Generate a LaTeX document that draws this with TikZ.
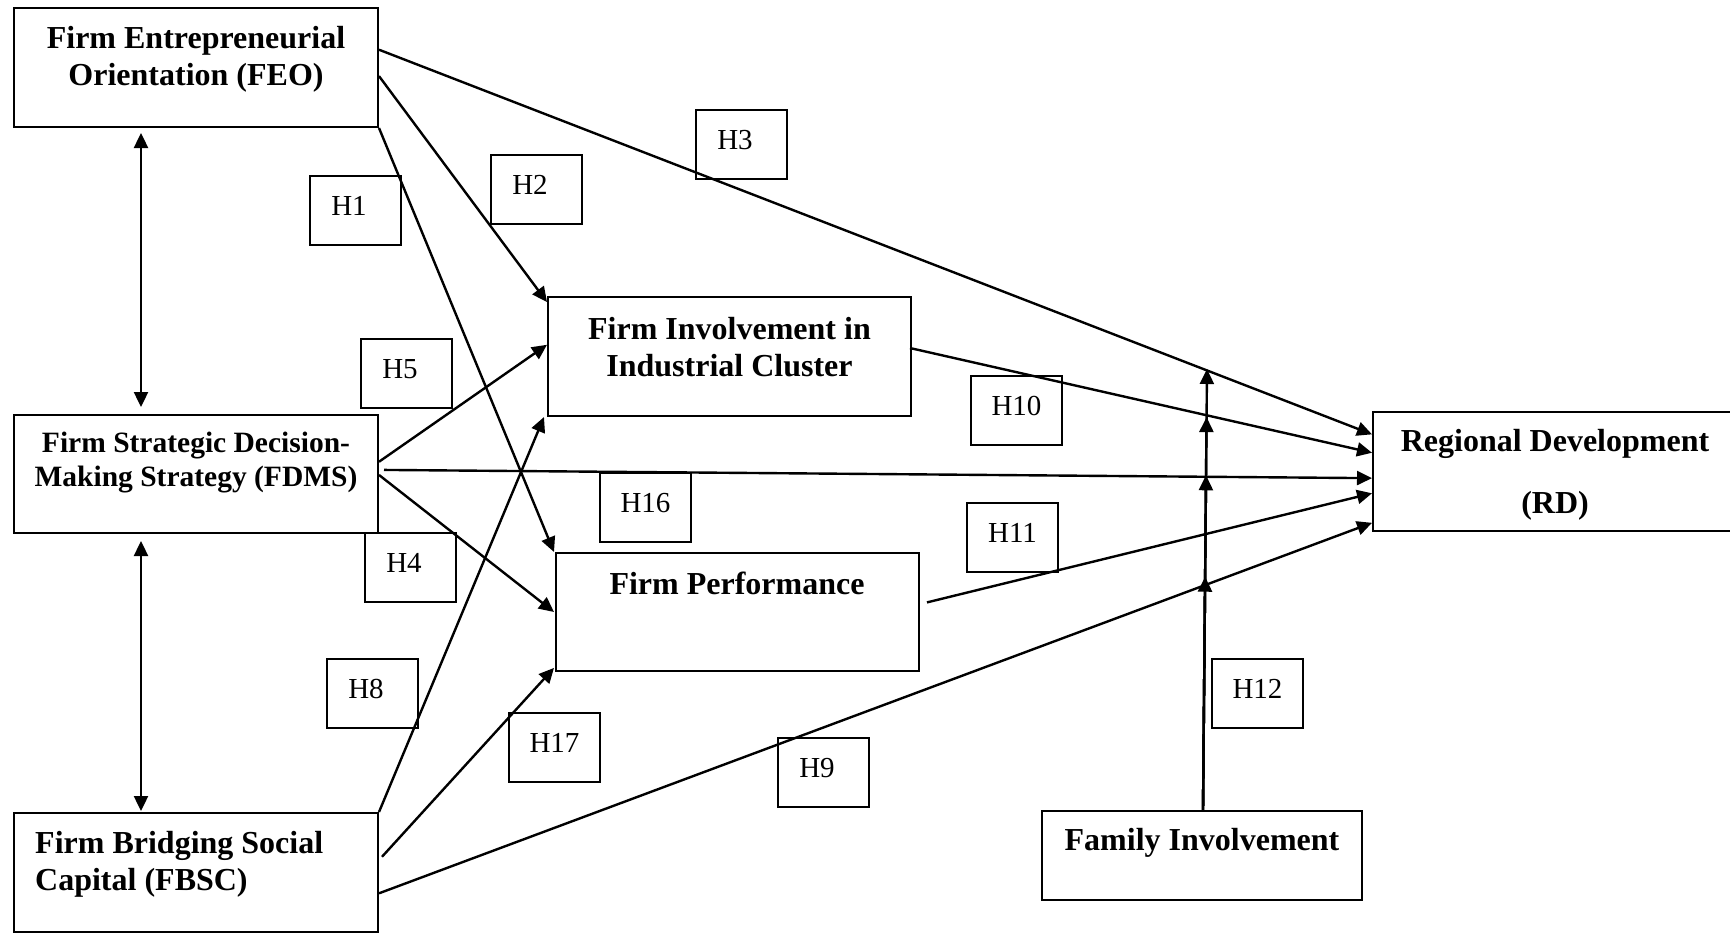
\documentclass[tikz,border=0pt]{standalone}
\usepackage{fontspec}
\setmainfont{Liberation Serif}
\usetikzlibrary{arrows.meta,calc}
\begin{document}
\begin{tikzpicture}[x=1pt,y=-1pt,
  box/.style={draw, line width=2pt, inner sep=0pt},
  btxt/.style={font=\fontsize{32}{37}\selectfont\bfseries, align=center, inner sep=0pt},
  stxt/.style={font=\fontsize{29.5}{34}\selectfont\bfseries, align=center, inner sep=0pt},
  hbox/.style={draw, line width=2pt, minimum width=91pt, minimum height=69pt, inner sep=0pt,
    font=\fontsize{29}{34}\selectfont, text height=20pt, text depth=10pt},
  hboxl/.style={hbox, execute at end node={\hspace*{12pt}}},
  arr/.style={line width=2.4pt, -{Triangle[length=15pt,width=14pt]}},
  dbl/.style={line width=2.4pt, {Triangle[length=15pt,width=14pt]}-{Triangle[length=15pt,width=14pt]}}]
\useasboundingbox (0,0) rectangle (1730,937);

% main boxes
\node[box, minimum width=364pt, minimum height=119pt] (feo) at (196,67.5) {};
\node[box, minimum width=364pt, minimum height=118pt] (fdms) at (196,474) {};
\node[box, minimum width=364pt, minimum height=119pt] (fbsc) at (196,872.5) {};
\node[box, minimum width=363pt, minimum height=119pt] (fic) at (729.5,356.5) {};
\node[box, minimum width=363pt, minimum height=118pt] (fp) at (737.5,612) {};
\node[box, minimum width=364pt, minimum height=119pt] (rd) at (1555,471.5) {};
\node[box, minimum width=320pt, minimum height=89pt] (fi) at (1202,855.5) {};

% box texts
\node[btxt] (feot) at (196,59) {Firm Entrepreneurial\\Orientation (FEO)};
\node[stxt] (fdmst) at (196,463) {Firm Strategic Decision-\\Making Strategy (FDMS)};
\node[btxt, anchor=west, align=left] (fbsct) at (35,864) {Firm Bridging Social\\Capital (FBSC)};
\node[btxt] (fict) at (729.5,347) {Firm Involvement in\\Industrial Cluster};
\node[btxt] (fpt) at (737,583) {Firm Performance};
\node[btxt] (rdt) at (1555,475) {Regional Development\\[25pt](RD)};
\node[btxt] (fit) at (1202,843) {Family Involvement};

% hypothesis boxes
\node[hboxl] (h1) at (355,210.5) {H1};
\node[hboxl] (h2) at (536,189.5) {H2};
\node[hboxl] (h3) at (741,144) {H3};
\node[hboxl] (h5) at (406,373.5) {H5};
\node[hbox] (h10) at (1016.5,410.5) {H10};
\node[hbox] (h16) at (645.5,507.5) {H16};
\node[hboxl] (h4) at (410,567) {H4};
\node[hbox] (h11) at (1012.5,537) {H11};
\node[hboxl] (h8) at (372,693.5) {H8};
\node[hbox] (h17) at (554.5,747) {H17};
\node[hboxl] (h9) at (823,772.5) {H9};
\node[hbox] (h12) at (1257.5,693) {H12};

% double arrows
\draw[dbl] ([xshift=128pt,yshift=-5pt]feo.south west) -- ([xshift=128pt,yshift=7pt]fdms.north west);
\draw[dbl] ([xshift=128pt,yshift=-7pt]fdms.south west) -- ([xshift=128pt,yshift=1pt]fbsc.north west);

% from FEO
\draw[arr] ($(feo.north east)!0.571!(feo.south east)$) -- ($(fic.north west)!0.05!(fic.south west)$);
\draw[arr] (feo.south east) -- ([xshift=-1pt]fp.north west);
\draw[arr] ($(feo.north east)!0.353!(feo.south east)$) -- ($(rd.north west)!0.193!(rd.south west)$);

% from FDMS
\draw[arr] ($(fdms.north east)!0.398!(fdms.south east)$) -- ($(fic.north west)!0.403!(fic.south west)$);
\draw[arr] ([xshift=5pt]$(fdms.north east)!0.466!(fdms.south east)$) -- ($(rd.north west)!0.555!(rd.south west)$);
\draw[arr] ($(fdms.north east)!0.508!(fdms.south east)$) -- ([xshift=-1pt]$(fp.north west)!0.5!(fp.south west)$);

% from FBSC
\draw[arr] (fbsc.north east) -- ([xshift=-3pt]fic.south west);
\draw[arr] ([xshift=3pt]$(fbsc.north east)!0.37!(fbsc.south east)$) -- ([xshift=-1pt]$(fp.north west)!0.966!(fp.south west)$);
\draw[arr] ($(fbsc.north east)!0.672!(fbsc.south east)$) -- ($(rd.north west)!0.924!(rd.south west)$);

% to RD
\draw[arr] ([xshift=-2pt]$(fic.north east)!0.43!(fic.south east)$) -- ($(rd.north west)!0.345!(rd.south west)$);
\draw[arr] ([xshift=7pt]$(fp.north east)!0.42!(fp.south east)$) -- ($(rd.north west)!0.68!(rd.south west)$);

% moderator
\coordinate (fib) at ($(fi.north)+(1,0)$);
\coordinate (fitop) at (1207,369);
\draw[arr] (fib) -- ($(fib)!0.529!(fitop)$);
\draw[arr] (fib) -- ($(fib)!0.759!(fitop)$);
\draw[arr] (fib) -- ($(fib)!0.891!(fitop)$);
\draw[arr] (fib) -- (fitop);
\end{tikzpicture}
\end{document}
